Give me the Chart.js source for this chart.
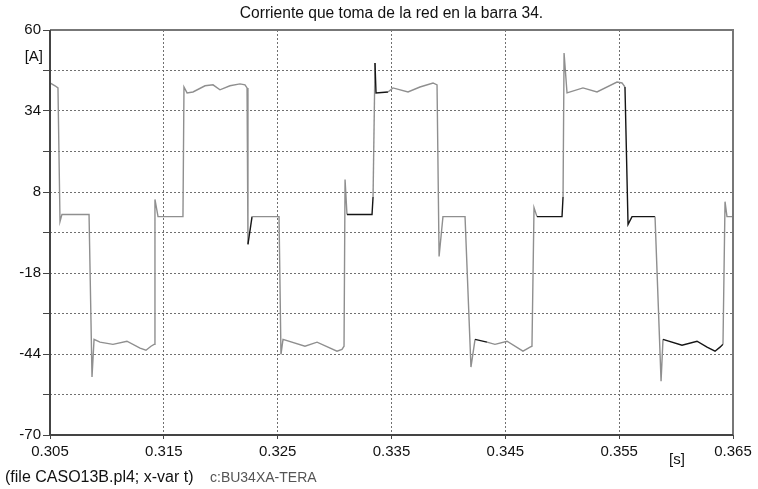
<!DOCTYPE html>
<html>
<head>
<meta charset="utf-8">
<script src="https://cdn.jsdelivr.net/npm/chart.js@4.4.1/dist/chart.umd.min.js"></script>
<style>
    html, body { margin: 0; padding: 0; background: #fff; }
    #wrap { width: 758px; height: 489px; position: relative; }
</style>
</head>
<body>
<div id="wrap"><canvas id="chart"></canvas></div>
<script>
// Trace: time in seconds, current in amperes
const timeS = [
    0.30500, 0.30544, 0.30570, 0.30588, 0.30605, 0.30843, 0.30869, 0.30887, 0.30939, 0.31053,
    0.31176, 0.31291, 0.31343, 0.31387, 0.31414, 0.31422, 0.31449, 0.31668, 0.31677, 0.31704,
    0.31756, 0.31862, 0.31932, 0.31993, 0.32081, 0.32169, 0.32213, 0.32231, 0.32239, 0.32275,
    0.32512, 0.32529, 0.32547, 0.32740, 0.32846, 0.33021, 0.33065, 0.33083, 0.33092, 0.33109,
    0.33329, 0.33338, 0.33355, 0.33364, 0.33469, 0.33513, 0.33645, 0.33750, 0.33865, 0.33900,
    0.33918, 0.33952, 0.34146, 0.34198, 0.34234, 0.34339, 0.34409, 0.34515, 0.34655, 0.34717,
    0.34734, 0.34752, 0.34778, 0.34998, 0.35007, 0.35016, 0.35042, 0.35182, 0.35305, 0.35481,
    0.35525, 0.35551, 0.35578, 0.35613, 0.35815, 0.35868, 0.35885, 0.36052, 0.36184, 0.36272,
    0.36342, 0.36386, 0.36412, 0.36430, 0.36447, 0.36500
];
const currentA = [
    43.0, 42.1, 41.4, -1.5, 0.8, 0.8, -51.4, -39.3, -40.2, -40.9,
    -39.9, -42.1, -42.8, -41.5, -40.9, 5.6, 0.1, 0.1, 41.7, 39.8,
    40.1, 42.1, 42.4, 40.8, 42.1, 42.7, 42.4, 41.4, -8.8, 0.1,
    0.1, -44.1, -39.3, -41.5, -40.2, -43.1, -42.5, -41.5, 12.0, 0.8,
    0.8, 6.5, 49.4, 39.8, 40.1, 41.4, 40.1, 41.7, 43.0, 42.4,
    -12.7, 0.1, 0.1, -48.2, -39.3, -40.2, -40.9, -39.9, -43.1, -41.8,
    -41.5, 3.0, 0.1, 0.1, 6.5, 52.6, 39.8, 41.4, 40.1, 43.3,
    43.0, 41.7, -2.4, 0.1, 0.1, -52.7, -39.3, -41.2, -39.9, -41.8,
    -43.1, -41.8, -40.9, 4.9, 0.1, 0.1
];

// Pieces of the trace that print in black (start time of segment)
const darkRanges = [
    [0.32235, 0.32245], [0.33100, 0.33330], [0.33350, 0.33365], [0.34230, 0.34240],
    [0.34770, 0.35000], [0.35550, 0.35620], [0.35880, 0.36390]
];

const xTicks = [0.305, 0.315, 0.325, 0.335, 0.345, 0.355, 0.365];
const yTicks = [-70, -57, -44, -31, -18, -5, 8, 21, 34, 47, 60];
const yLabeled = [-70, -44, -18, 8, 34, 60];

const TITLE = "Corriente que toma de la red en la barra 34.";
const FOOT_FILE = "(file CASO13B.pl4; x-var t)";
const FOOT_VAR = "c:BU34XA-TERA";

const FONT = "'Liberation Sans', Arial, sans-serif";

const points = timeS.map((t, i) => ({ x: t, y: currentA[i] }));

function isDark(t) {
    return darkRanges.some(r => t >= r[0] && t <= r[1]);
}

const paperText = {
    id: "paperText",
    afterDraw(chart) {
        const { ctx, chartArea } = chart;
        const { left, right, top, bottom } = chartArea;
        ctx.save();

        // plot frame
        ctx.lineWidth = 2;
        ctx.strokeStyle = "#777";
        ctx.beginPath();
        ctx.moveTo(left, top);
        ctx.lineTo(right, top);
        ctx.lineTo(right, bottom);
        ctx.stroke();
        ctx.strokeStyle = "#444";
        ctx.beginPath();
        ctx.moveTo(left, top);
        ctx.lineTo(left, bottom);
        ctx.lineTo(right, bottom);
        ctx.stroke();

        ctx.fillStyle = "#111";
        ctx.textBaseline = "middle";
        ctx.font = "15.6px " + FONT;
        ctx.textAlign = "center";
        ctx.fillText(TITLE, (left + right) / 2, 14);

        ctx.font = "15px " + FONT;
        ctx.textAlign = "right";
        ctx.fillText("[A]", 43, 57);
        ctx.textAlign = "center";
        ctx.fillText("[s]", 677, 460);

        ctx.font = "16px " + FONT;
        ctx.textAlign = "left";
        ctx.fillText(FOOT_FILE, 5, 478);
        ctx.font = "14px " + FONT;
        ctx.fillStyle = "#555";
        ctx.fillText(FOOT_VAR, 210, 478);
        ctx.restore();
    }
};

new Chart(document.getElementById("chart"), {
    type: "line",
    data: {
        datasets: [{
            label: "c:BU34XA-TERA",
            data: points,
            borderColor: "#8f8f8f",
            borderWidth: 1.4,
            pointRadius: 0,
            tension: 0,
            fill: false,
            segment: {
                borderColor: c => isDark(c.p0.parsed.x) ? "#151515" : undefined
            }
        }]
    },
    options: {
        responsive: true,
        maintainAspectRatio: false,
        animation: false,
        layout: {
            padding: { top: 30, right: 25, left: 0, bottom: 0 }
        },
        plugins: {
            legend: { display: false },
            tooltip: { enabled: false }
        },
        scales: {
            x: {
                type: "linear",
                min: 0.305,
                max: 0.365,
                afterBuildTicks: scale => {
                    scale.ticks = xTicks.map(v => ({ value: v }));
                },
                afterFit: scale => {
                    scale.height = 54;
                },
                ticks: {
                    autoSkip: false,
                    maxRotation: 0,
                    padding: 4,
                    color: "#111",
                    font: { family: FONT, size: 15 },
                    callback: v => v.toFixed(3)
                },
                grid: {
                    color: "#707070",
                    lineWidth: 1,
                    tickLength: 4,
                    tickColor: "#444"
                },
                border: {
                    display: false,
                    dash: [2, 2]
                }
            },
            y: {
                min: -70,
                max: 60,
                afterBuildTicks: scale => {
                    scale.ticks = yTicks.map(v => ({ value: v }));
                },
                afterFit: scale => {
                    scale.width = 50;
                },
                ticks: {
                    autoSkip: false,
                    padding: 2,
                    color: "#111",
                    font: { family: FONT, size: 15 },
                    callback: v => yLabeled.includes(v) ? String(v) : ""
                },
                grid: {
                    color: "#707070",
                    lineWidth: 1,
                    tickLength: 7,
                    tickColor: "#444"
                },
                border: {
                    display: false,
                    dash: [2, 2]
                }
            }
        }
    },
    plugins: [paperText]
});
</script>
</body>
</html>
